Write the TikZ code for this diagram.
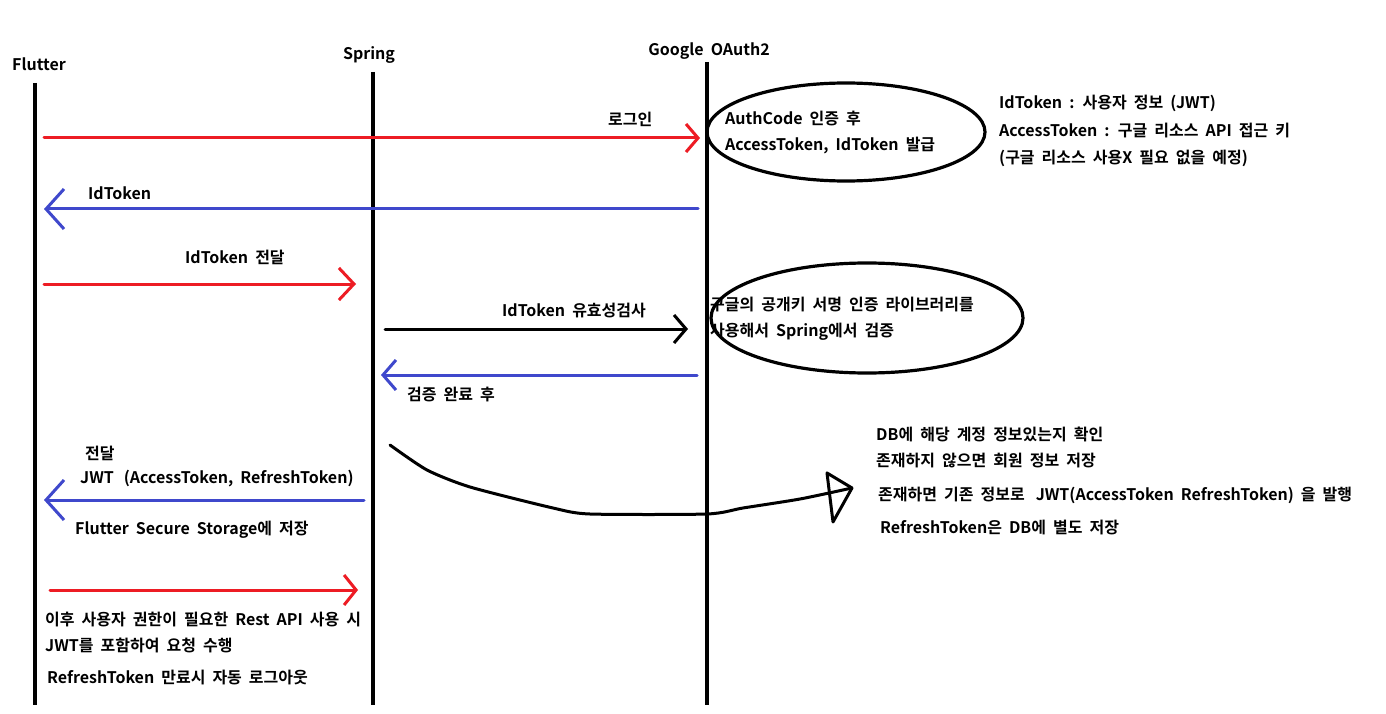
\documentclass[tikz,border=0pt]{standalone}
\usepackage{fontspec}
\setmainfont{Noto Sans CJK KR}[BoldFont={Noto Sans CJK KR Bold}]
\usetikzlibrary{arrows.meta}
\definecolor{pred}{RGB}{237,28,36}
\definecolor{pblue}{RGB}{63,72,204}
\newcommand{\lblfont}{\fontsize{16}{18}\selectfont\bfseries\spaceskip=0.44em plus 0.1em\relax}
\tikzset{
  life/.style={line width=3.6pt, black},
  msg/.style={line width=3pt, line cap=round, line join=round, -{Straight Barb[length=12pt,width=28pt,line width=3pt]}},
  redmsg/.style={msg, pred},
  bluemsg/.style={msg, pblue, -{Straight Barb[length=18pt,width=40pt,line width=3pt]}},
  blackmsg/.style={msg, black},
  lbl/.style={anchor=base west, inner sep=0pt, font=\lblfont},
  ell/.style={line width=3.2pt, black},
}
\begin{document}
\begin{tikzpicture}[x=1pt,y=-1pt]
\fill[white] (0,0) rectangle (1386,714);
\useasboundingbox (0,0) rectangle (1386,714);

% lifeline labels
\node[lbl] (lF) at (12,71) {Flutter};
\node[lbl, anchor=base] (lS) at (369,60) {Spring};
\node[lbl, anchor=base] (lG) at (709,56) {Google OAuth2};

% lifelines
\coordinate (fT) at (35,83);  \coordinate (fB) at (35,705);
\coordinate (sT) at (373,72); \coordinate (sB) at (373,705);
\coordinate (gT) at (707,62); \coordinate (gB) at (707,705);
\draw[life] (fT) -- (fB);
\draw[life] (sT) -- (sB);
\draw[life] (gT) -- (gB);

% ellipses
\draw[ell] (846,132) ellipse [x radius=139pt, y radius=49pt];
\draw[ell] (867,318) ellipse [x radius=156pt, y radius=55pt];

% 1 login
\coordinate (m1s) at (44,138); \coordinate (m1e) at (700,138);
\draw[redmsg] (m1s) -- (m1e);
\node[lbl] (t1) at (608,126) {로그인};
\node[lbl] (e1a) at (725,125) {AuthCode 인증 후};
\node[lbl] (e1b) at (725,151) {AccessToken, IdToken 발급};

% notes top right
\node[lbl] (n1) at (999,109) {IdToken : 사용자 정보 (JWT)};
\node[lbl] (n2) at (999,137) {AccessToken : 구글 리소스 API 접근 키};
\node[lbl] (n3) at (999,164) {(구글 리소스 사용X 필요 없을 예정)};

% 2 IdToken back
\coordinate (m2s) at (698,209); \coordinate (m2e) at (44,209);
\draw[bluemsg] (m2s) -- (m2e);
\node[lbl] (t2) at (88,200) {IdToken};

% 3 IdToken to Spring
\coordinate (m3s) at (44,284); \coordinate (m3e) at (356,284);
\draw[redmsg, -{Straight Barb[length=15pt,width=32pt,line width=3pt]}] (m3s) -- (m3e);
\node[lbl] (t3) at (185,263) {IdToken 전달};

% 4 validation
\coordinate (m4s) at (385,329); \coordinate (m4e) at (688,329);
\draw[blackmsg] (m4s) -- (m4e);
\node[lbl] (t4) at (502,316) {IdToken 유효성검사};
\node[lbl] (e2a) at (710,310) {구글의 공개키 서명 인증 라이브러리를};
\node[lbl] (e2b) at (710,336) {사용해서 Spring에서 검증};

% 5 back to Spring
\coordinate (m5s) at (697,375); \coordinate (m5e) at (381,375);
\draw[bluemsg, -{Straight Barb[length=13pt,width=30pt,line width=3pt]}] (m5s) -- (m5e);
\node[lbl] (t5) at (407,400) {검증 완료 후};

% 6 JWT to Flutter
\coordinate (m6s) at (364,500); \coordinate (m6e) at (44,500);
\draw[bluemsg] (m6s) -- (m6e);
\node[lbl] (t6a) at (85,459) {전달};
\node[lbl] (t6b) at (80,483) {JWT\hspace{10pt}(AccessToken, RefreshToken)};
\node[lbl] (t6c) at (75,534) {Flutter Secure Storage에 저장};

% 7 Rest API
\coordinate (m7s) at (50,590); \coordinate (m7e) at (358,590);
\draw[redmsg, -{Straight Barb[length=12pt,width=30pt,line width=3pt]}] (m7s) -- (m7e);
\node[lbl] (t7a) at (45,625) {이후 사용자 권한이 필요한 Rest API 사용 시};
\node[lbl] (t7b) at (45,651) {JWT를 포함하여 요청 수행};
\node[lbl] (t7c) at (47,683) {RefreshToken 만료시 자동 로그아웃};

% hand-drawn curve with triangle head
\draw[line width=3pt, line cap=round, line join=round]
  plot[smooth, tension=0.4] coordinates {(390,445) (427,470) (470,487) (553,508) (590,514) (707,514) (743,508) (800,499) (852,488)};
\draw[line width=3pt, line cap=round, line join=round]
  (827,473) -- (852,488) -- (833,522) -- cycle;

% notes DB
\node[lbl] (d1) at (876,440) {DB에 해당 계정 정보있는지 확인};
\node[lbl] (d2) at (876,466) {존재하지 않으면 회원 정보 저장};
\node[lbl] (d3) at (878,500) {존재하면 기존 정보로\hspace{11pt}JWT(AccessToken RefreshToken) 을 발행};
\node[lbl] (d4) at (880,533) {RefreshToken은 DB에 별도 저장};
\end{tikzpicture}
\end{document}
